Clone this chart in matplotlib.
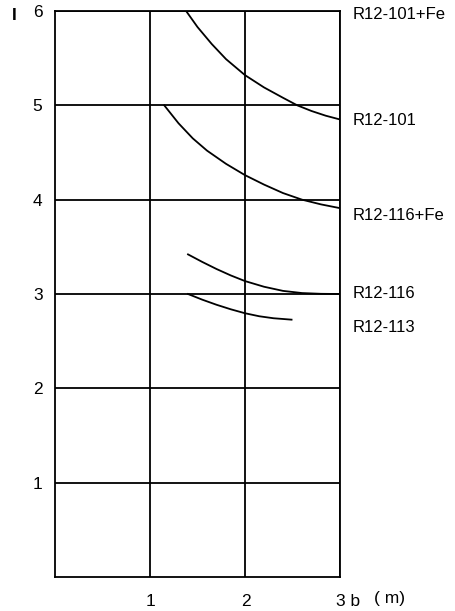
import matplotlib.pyplot as plt
import matplotlib.transforms as mtrans

plt.rcParams['font.family'] = ['Liberation Sans', 'DejaVu Sans']

# curves (b in m, l)
b_101fe = [1.38, 1.50, 1.65, 1.80, 2.00, 2.20, 2.40, 2.55, 2.70, 2.85, 3.00]
l_101fe = [6.00, 5.83, 5.65, 5.49, 5.32, 5.19, 5.08, 5.00, 4.94, 4.89, 4.85]

b_101 = [1.15, 1.30, 1.45, 1.60, 1.80, 2.00, 2.20, 2.40, 2.60, 2.80, 3.00]
l_101 = [5.00, 4.81, 4.65, 4.52, 4.38, 4.26, 4.16, 4.07, 4.00, 3.95, 3.91]

b_116 = [1.40, 1.55, 1.70, 1.85, 2.00, 2.20, 2.40, 2.60, 2.80, 3.00]
l_116 = [3.42, 3.34, 3.265, 3.197, 3.137, 3.077, 3.033, 3.010, 3.002, 3.000]

b_113 = [1.40, 1.55, 1.70, 1.85, 2.00, 2.15, 2.30, 2.49]
l_113 = [3.00, 2.94, 2.886, 2.838, 2.796, 2.764, 2.743, 2.728]

labels = ['R12-101+Fe', 'R12-101', 'R12-116+Fe', 'R12-116', 'R12-113']
label_y = [5.96, 4.84, 3.83, 3.00, 2.65]

xticks = [1, 2, 3]
xticklabels = ['1', '2', '3 b']
yticks = [1, 2, 3, 4, 5, 6]

fig = plt.figure(figsize=(4.56, 6.11), dpi=100)
ax = fig.add_axes([55/456, 1 - 577/611, 285/456, 566/611])

for b, l in [(b_101fe, l_101fe), (b_101, l_101), (b_116, l_116), (b_113, l_113)]:
    ax.plot(b, l, color='black', lw=1.3, solid_joinstyle='round')

ax.set_xlim(0, 3)
ax.set_ylim(0, 6)
ax.set_xticks(xticks)
ax.set_xticklabels(xticklabels)
ax.set_yticks(yticks)
ax.grid(True, color='black', lw=1.3)
ax.tick_params(length=0, labelsize=12.5)
ax.tick_params(axis='y', pad=9)
ax.tick_params(axis='x', pad=12)
for s in ax.spines.values():
    s.set_linewidth(1.3)

# numbers sit centred on the gridline, "b" trails after the 3
offset = mtrans.ScaledTranslation(-4/100, 0, fig.dpi_scale_trans)
for lab in ax.get_xticklabels():
    lab.set_horizontalalignment('left')
    lab.set_transform(lab.get_transform() + offset)

for txt, y in zip(labels, label_y):
    ax.text(3.13, y, txt, fontsize=12, va='center', ha='left')

fig.text(390/456, 1 - 598/611, '( m)', fontsize=12.5, ha='center', va='center')
fig.text(14/456, 1 - 15/611, 'I', fontsize=12.5, fontweight='bold', ha='center', va='center')

fig.savefig('out.png', dpi=100)
